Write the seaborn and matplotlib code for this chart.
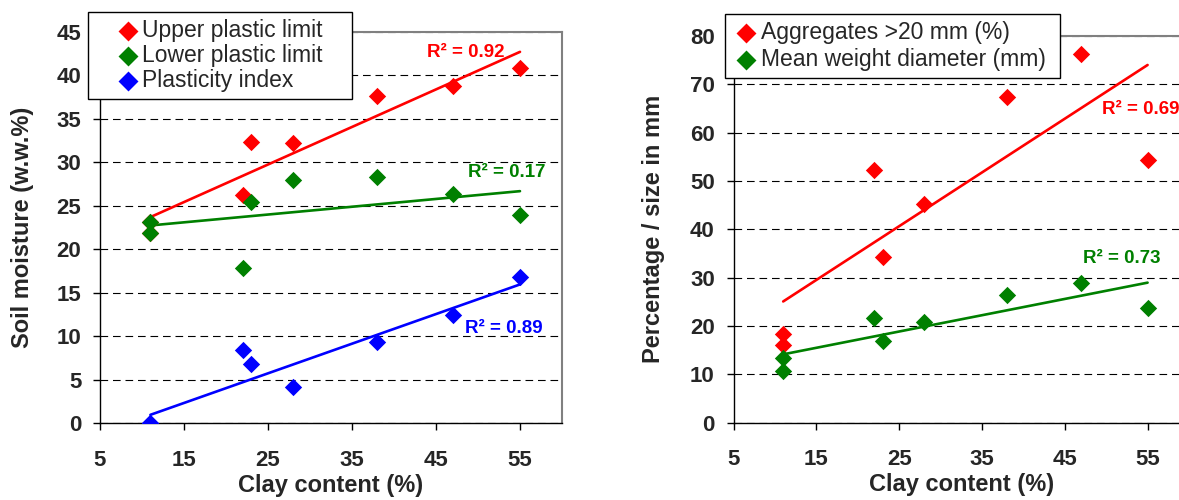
import numpy as np
import pandas as pd
import matplotlib
matplotlib.use("Agg")
import matplotlib.pyplot as plt
import seaborn as sns

# Clay content of the eight soil samples (%)
clay = [11, 11, 22, 23, 28, 38, 47, 55]

# Atterberg limits (soil moisture, w.w.%)
upper_plastic_limit = [23.2, 21.9, 26.3, 32.3, 32.2, 37.6, 38.8, 40.9]
lower_plastic_limit = [23.2, 21.9, 17.9, 25.5, 28.0, 28.3, 26.4, 24.0]
plasticity_index = [0.0, 0.0, 8.4, 6.8, 4.2, 9.3, 12.4, 16.8]

# Aggregate structure
aggregates_gt20 = [18.4, 16.1, 52.3, 34.2, 45.2, 67.3, 76.3, 54.3]
mean_weight_diameter = [13.3, 10.7, 21.6, 17.0, 20.9, 26.4, 29.0, 23.8]

left_labels = ["Upper plastic limit", "Lower plastic limit", "Plasticity index"]
right_labels = ["Aggregates >20 mm (%)", "Mean weight diameter (mm)"]
left_r2 = ["0.92", "0.17", "0.89"]
right_r2 = ["0.69", "0.73"]

x_ticks = [5, 15, 25, 35, 45, 55]
left_y_ticks = list(range(0, 50, 5))
right_y_ticks = list(range(0, 90, 10))

RED, GREEN, BLUE = "#ff0000", "#008000", "#0000ff"

sns.set_style("white")
plt.rcParams["font.family"] = ["Liberation Sans", "DejaVu Sans"]
plt.rcParams["lines.scale_dashes"] = False

W, H = 1179, 500
fig = plt.figure(figsize=(W / 100, H / 100), dpi=100)
ax1 = fig.add_axes([100 / W, 1 - 423.3 / H, 462 / W, 391.3 / H])
ax2 = fig.add_axes([733.5 / W, 1 - 422.7 / H, 455.5 / W, 386.7 / H])

df = pd.DataFrame({
    "clay": clay,
    "upper": upper_plastic_limit,
    "lower": lower_plastic_limit,
    "pi": plasticity_index,
    "agg": aggregates_gt20,
    "mwd": mean_weight_diameter,
})


def draw_series(ax, col, color):
    sns.regplot(data=df, x="clay", y=col, ax=ax, ci=None, marker="D", color=color,
                scatter_kws=dict(s=78, linewidths=0, alpha=1, zorder=3),
                line_kws=dict(lw=1.9, zorder=2))


draw_series(ax1, "upper", RED)
draw_series(ax1, "lower", GREEN)
draw_series(ax1, "pi", BLUE)
draw_series(ax2, "agg", RED)
draw_series(ax2, "mwd", GREEN)


def style_axes(ax, yticks, ytop, ylabel, ylabel_x):
    ax.set_xlim(5, 60)
    ax.set_ylim(0, ytop)
    ax.set_xticks(x_ticks)
    ax.set_yticks(yticks)
    ax.set_axisbelow(True)
    ax.yaxis.grid(True, color="black", lw=0.8, linestyle=(0, (5.5, 3.5)))
    ax.xaxis.grid(False)
    ax.tick_params(axis="both", direction="out", length=5, width=1, color="black",
                   bottom=True, left=True, labelsize=16)
    ax.tick_params(axis="x", pad=14)
    ax.tick_params(axis="y", pad=8.5)
    for t in ax.get_xticklabels() + ax.get_yticklabels():
        t.set_fontweight("bold")
    for side in ("left", "bottom"):
        ax.spines[side].set_color("black")
        ax.spines[side].set_linewidth(1.0)
    for side in ("top", "right"):
        ax.spines[side].set_color("#808080")
        ax.spines[side].set_linewidth(1.5)
    ax.set_xlabel("Clay content (%)", fontsize=17, fontweight="bold")
    ax.set_ylabel(ylabel, fontsize=17, fontweight="bold")
    ax.xaxis.set_label_coords(0.5, -0.13)
    ax.yaxis.set_label_coords(ylabel_x, 0.5)


style_axes(ax1, left_y_ticks, 45, "Soil moisture (w.w.%)", -0.143)
style_axes(ax2, right_y_ticks, 80, "Percentage / size in mm", -0.150)

# Coefficients of determination next to each trend line
r2_kw = dict(fontsize=13.5, fontweight="bold", ha="left", va="center")
ax1.text(43.9, 42.6, f"R² = {left_r2[0]}", color=RED, **r2_kw)
ax1.text(48.8, 28.8, f"R² = {left_r2[1]}", color=GREEN, **r2_kw)
ax1.text(48.4, 10.85, f"R² = {left_r2[2]}", color=BLUE, **r2_kw)
ax2.text(49.5, 64.7, f"R² = {right_r2[0]}", color=RED, **r2_kw)
ax2.text(47.2, 33.9, f"R² = {right_r2[1]}", color=GREEN, **r2_kw)


def boxed_legend(ax, labels, box, handlelength, handletextpad, labelspacing):
    x0, y0, x1, y1 = box
    handles = list(ax.collections)[:len(labels)]
    leg = ax.legend(handles, labels, loc="upper left",
                    bbox_to_anchor=(x0 / W, 1 - y1 / H, (x1 - x0) / W, (y1 - y0) / H),
                    bbox_transform=fig.transFigure, mode="expand", borderaxespad=0,
                    frameon=True, fancybox=False, shadow=False, framealpha=1,
                    edgecolor="black", fontsize=16.5, borderpad=0.3,
                    handlelength=handlelength, handletextpad=handletextpad,
                    labelspacing=labelspacing, markerscale=1.15, scatterpoints=1)
    leg.get_frame().set_linewidth(1.0)
    return leg


boxed_legend(ax1, left_labels, (88, 12, 352, 93), 2.9, -0.84, 0.1)
boxed_legend(ax2, right_labels, (725, 14, 1060, 73), 1.2, 0.06, 0.2)

fig.savefig("out.png", dpi=100)
